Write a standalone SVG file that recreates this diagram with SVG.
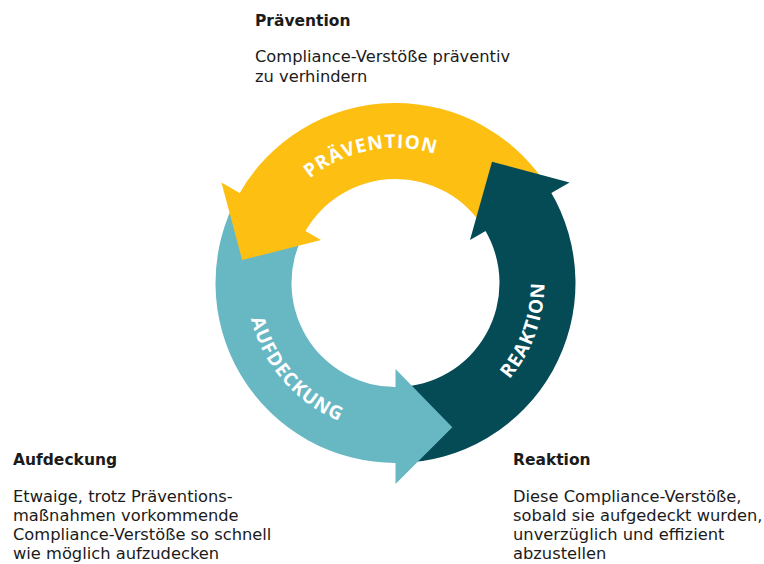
<svg xmlns="http://www.w3.org/2000/svg" width="764" height="564" viewBox="0 0 764 564">
<style>
.h{font-family:"DejaVu Sans","Open Sans",sans-serif;font-weight:700;font-size:15.5px;fill:#1b1b1b}
.b{font-family:"DejaVu Sans","Open Sans",sans-serif;font-size:16.3px;fill:#1b1b1b}
.arc{font-family:"Open Sans","Liberation Sans",sans-serif;font-weight:700;font-size:19px;fill:#ffffff;letter-spacing:1px}
.y{fill:#FCBF12}.l{fill:#68B8C4}.t{fill:#044B55}
</style>
<defs>
<path id="pPrav" d="M 267.85 239.05 A 135 135 0 0 1 497.39 194.43"/>
<path id="pReak" d="M 421.37 429.74 A 149 149 0 0 0 509.64 187.22"/>
<path id="pAuf" d="M 254.62 234.49 A 149 149 0 0 0 423.93 429.26"/>
</defs>
<rect width="764" height="564" fill="#ffffff"/>
<g id="cycle">
<g id="shafts">
<path class="y" d="M 550.59 191.64 A 180 180 0 0 0 238.07 195.73 L 304.54 232.58 A 104 104 0 0 1 485.11 230.22 Z"/>
<path class="l" d="M 238.84 194.36 A 180 180 0 0 0 398.64 462.97 L 397.32 386.98 A 104 104 0 0 1 304.98 231.79 Z"/>
<path class="t" d="M 397.07 462.99 A 180 180 0 0 0 549.79 190.29 L 484.65 229.44 A 104 104 0 0 1 396.41 387 Z"/>
</g>
<g id="heads">
<polygon class="y" points="221.43,182.5 321.02,240 242.2,260.09"/>
<polygon class="l" points="395.5,484 395.5,369 452.31,427.22"/>
<polygon class="t" points="569.57,182.5 469.98,240 491.99,161.7"/>
</g>
</g>
<g id="praevention-label"><text class="arc"><textPath href="#pPrav" startOffset="50%" text-anchor="middle">PRÄVENTION</textPath></text></g>
<g id="reaktion-label"><text class="arc"><textPath href="#pReak" startOffset="50%" text-anchor="middle">REAKTION</textPath></text></g>
<g id="aufdeckung-label"><text class="arc"><textPath href="#pAuf" startOffset="50%" text-anchor="middle">AUFDECKUNG</textPath></text></g>
<g id="praevention-text">
<text class="h" x="255" y="25.5">Prävention</text>
<text class="b" x="255" y="62">Compliance-Verstöße präventiv</text>
<text class="b" x="255" y="81.5">zu verhindern</text>
</g>
<g id="aufdeckung-text">
<text class="h" x="13" y="465">Aufdeckung</text>
<text class="b" x="13" y="501.5">Etwaige, trotz Präventions-</text>
<text class="b" x="13" y="520.8">maßnahmen vorkommende</text>
<text class="b" x="13" y="540.1">Compliance-Verstöße so schnell</text>
<text class="b" x="13" y="559.4">wie möglich aufzudecken</text>
</g>
<g id="reaktion-text">
<text class="h" x="513" y="465">Reaktion</text>
<text class="b" x="513" y="501.5">Diese Compliance-Verstöße,</text>
<text class="b" x="513" y="520.8">sobald sie aufgedeckt wurden,</text>
<text class="b" x="513" y="540.1">unverzüglich und effizient</text>
<text class="b" x="513" y="559.4">abzustellen</text>
</g>
</svg>
